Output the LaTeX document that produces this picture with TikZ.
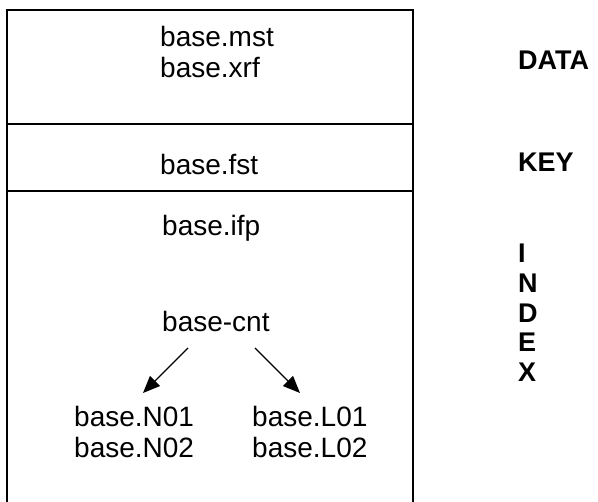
\documentclass[tikz,border=0pt]{standalone}
\usepackage{fontspec}
\setmainfont{Liberation Sans}
\usetikzlibrary{arrows.meta}
\begin{document}
\begin{tikzpicture}[x=1pt,y=-1pt,
  lbl/.style={anchor=base west,inner sep=0pt,font=\fontsize{28}{31}\selectfont},
  side/.style={anchor=base west,inner sep=0pt,font=\fontsize{27}{30}\selectfont\bfseries},
  frame/.style={line width=1.8pt},
  arr/.style={line width=1.3pt,-{Triangle[length=17pt,width=14pt]}}]
\useasboundingbox (0,0) rectangle (598,502);
\clip (0,0) rectangle (598,502);
% frame
\draw[frame] (7,510) -- (7,10) -- (413,10) -- (413,510);
\draw[frame] (7,124) -- (413,124);
\draw[frame] (7,191) -- (413,191);
% texts
\node[lbl] (mst) at (160,47) {base.mst};
\node[lbl] (xrf) at (160,78) {base.xrf};
\node[lbl] (fst) at (160,175) {base.fst};
\node[lbl] (ifp) at (162,236) {base.ifp};
\node[lbl] (cnt) at (162,332) {base-cnt};
\node[lbl] (n01) at (74,427) {base.N01};
\node[lbl] (n02) at (74,458) {base.N02};
\node[lbl] (l01) at (252,427) {base.L01};
\node[lbl] (l02) at (252,458) {base.L02};
% side labels
\node[side] (data) at (518,70) {DATA};
\node[side] (key) at (518,172) {KEY};
\node[side] (iI) at (518,263) {I};
\node[side] (iN) at (518,293) {N};
\node[side] (iD) at (518,323) {D};
\node[side] (iE) at (518,352) {E};
\node[side] (iX) at (518,382) {X};
% arrows
\coordinate (a1s) at (188,348);
\coordinate (a1e) at (143,393);
\coordinate (a2s) at (255,348);
\coordinate (a2e) at (300,393);
\draw[arr] (a1s) -- (a1e);
\draw[arr] (a2s) -- (a2e);
\end{tikzpicture}
\end{document}
